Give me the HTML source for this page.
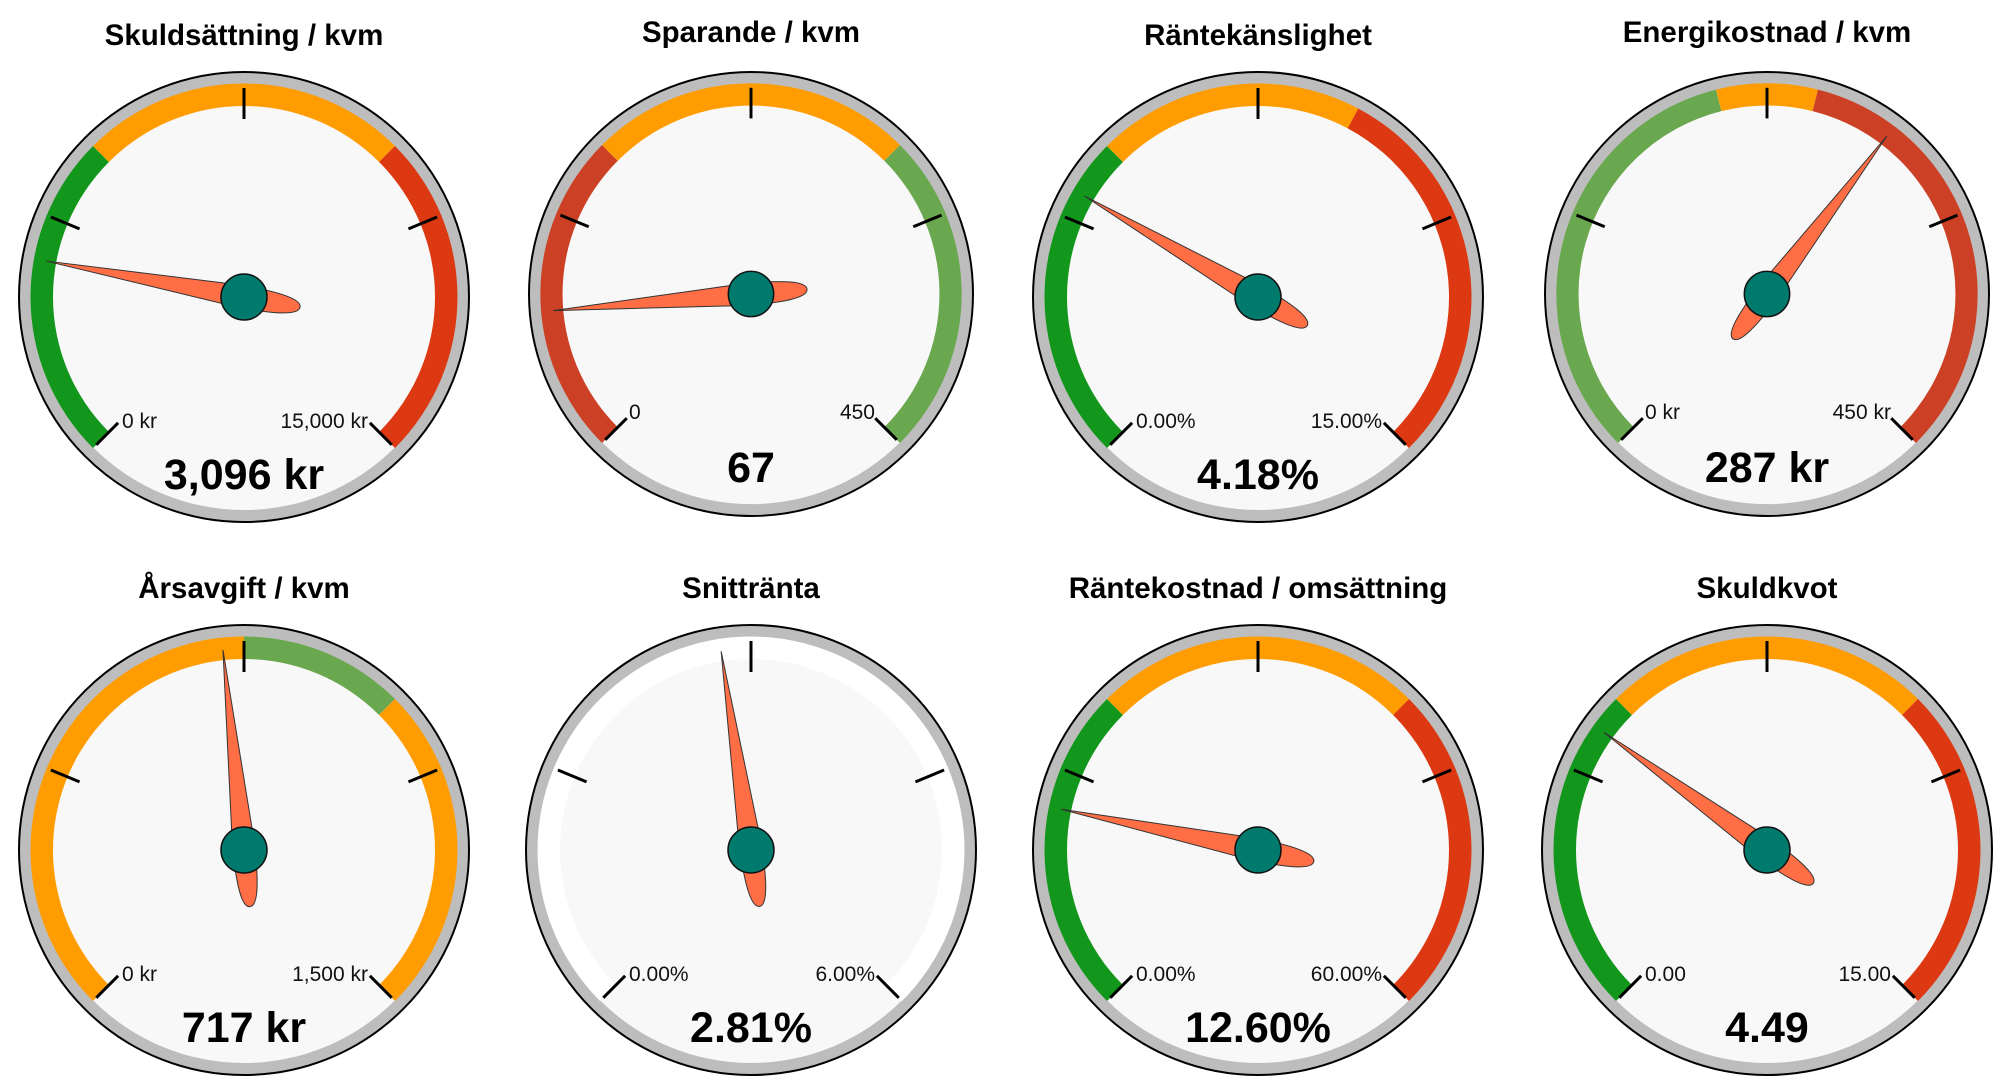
<!DOCTYPE html>
<html><head><meta charset="utf-8">
<style>
html,body{margin:0;padding:0;background:#fff;}
svg{display:block;}
text{font-family:"Liberation Sans",sans-serif;}
</style></head>
<body>
<svg id="s" width="2007" height="1090" viewBox="0 0 2007 1090" xmlns="http://www.w3.org/2000/svg"></svg>
<script>
const G='#12961c',LG='#6aa84f',O='#ff9c00',R='#dc3912',DR='#cc4125';
const gauges=[
 {cx:244,cy:297,rr:225,t:'Skuldsättning / kvm',l:'0 kr',r:'15,000 kr',v:'3,096 kr',a:-79.7,b:[[-135,-45,G],[-45,45,O],[45,135,R]]},
 {cx:751,cy:294,rr:222,t:'Sparande / kvm',l:'0',r:'450',v:'67',a:-94.8,b:[[-135,-45,DR],[-45,45,O],[45,135,LG]],ly:-6,vy:-4},
 {cx:1258,cy:297,rr:225,t:'Räntekänslighet',l:'0.00%',r:'15.00%',v:'4.18%',a:-59.8,b:[[-135,-45,G],[-45,28,O],[28,135,R]]},
 {cx:1767,cy:294,rr:222,t:'Energikostnad / kvm',l:'0 kr',r:'450 kr',v:'287 kr',a:37.2,b:[[-135,-14,LG],[-14,14,O],[14,135,DR]],ly:-6,vy:-4},
 {cx:244,cy:850,rr:225,t:'Årsavgift / kvm',l:'0 kr',r:'1,500 kr',v:'717 kr',a:-6,b:[[-135,0,O],[0,45,LG],[45,135,O]]},
 {cx:751,cy:850,rr:225,t:'Snittränta',l:'0.00%',r:'6.00%',v:'2.81%',a:-8.55,b:[[-135,135,'#ffffff']]},
 {cx:1258,cy:850,rr:225,t:'Räntekostnad / omsättning',l:'0.00%',r:'60.00%',v:'12.60%',a:-78.3,b:[[-135,-45,G],[-45,45,O],[45,135,R]]},
 {cx:1767,cy:850,rr:225,t:'Skuldkvot',l:'0.00',r:'15.00',v:'4.49',a:-54.2,b:[[-135,-45,G],[-45,45,O],[45,135,R]]}
];
function P(r,a){a=a*Math.PI/180;return [r*Math.sin(a),-r*Math.cos(a)];}
function sector(r1,r2,a1,a2){
 const p1=P(r2,a1),p2=P(r2,a2),p3=P(r1,a2),p4=P(r1,a1);const lg=(a2-a1)>180?1:0;
 return `M${p1[0]},${p1[1]} A${r2},${r2} 0 ${lg} 1 ${p2[0]},${p2[1]} L${p3[0]},${p3[1]} A${r1},${r1} 0 ${lg} 0 ${p4[0]},${p4[1]} Z`;
}
let h='';
for(const g of gauges){
 const k=g.rr/225;
 h+=`<g transform="translate(${g.cx},${g.cy}) scale(${k})">`;
 h+=`<circle r="225" fill="#bdbdbd" stroke="#000" stroke-width="2"/>`;
 h+=`<circle r="213" fill="#f8f8f8"/>`;
 for(const b of g.b){h+=`<path d="${sector(191,213.5,b[0],b[1])}" fill="${b[2]}"/>`;}
 for(const t of [-135,-67.5,0,67.5,135]){const a=P(178,t),c=P(209,t);h+=`<line x1="${a[0]}" y1="${a[1]}" x2="${c[0]}" y2="${c[1]}" stroke="#000" stroke-width="3"/>`;}
 h+=`<g transform="rotate(${g.a})"><path d="M0,-201 L11,-8 Q12,57 0,57 Q-12,57 -11,-8 Z" fill="#ff6e45" stroke="#333" stroke-width="1"/></g>`;
 h+=`<circle r="23" fill="#007a6c" stroke="#111" stroke-width="1.5"/>`;
 h+=`</g>`;
 const ly=(g.ly||0), vy=(g.vy||0);
 h+=`<text x="${g.cx}" y="${g.cy-252}" text-anchor="middle" font-size="29.5" font-weight="bold" fill="#000">${g.t}</text>`;
 h+=`<text x="${g.cx-122}" y="${g.cy+131+ly}" font-size="21" fill="#111">${g.l}</text>`;
 h+=`<text x="${g.cx+124}" y="${g.cy+131+ly}" text-anchor="end" font-size="21" fill="#111">${g.r}</text>`;
 h+=`<text x="${g.cx}" y="${g.cy+192+vy}" text-anchor="middle" font-size="43" font-weight="bold" fill="#000">${g.v}</text>`;
}
document.getElementById('s').innerHTML=h;
</script>
</body></html>
